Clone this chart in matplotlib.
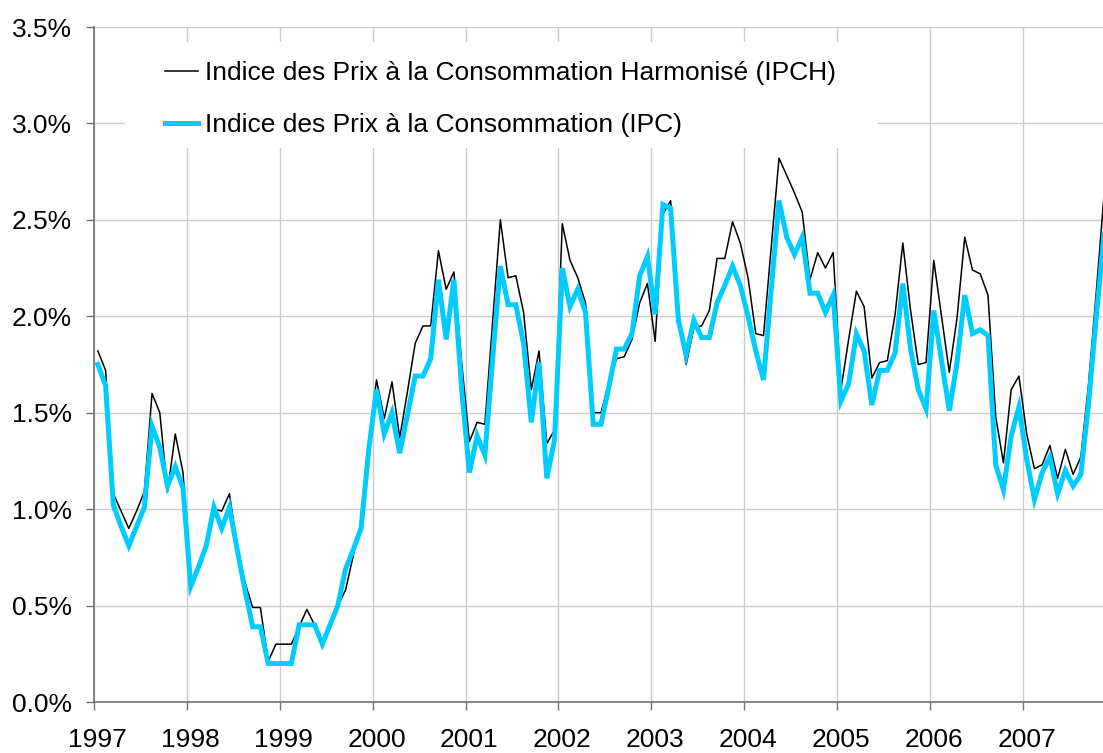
import matplotlib
matplotlib.use('Agg')
import matplotlib.pyplot as plt
import numpy as np
from matplotlib.ticker import FixedLocator, FuncFormatter, NullFormatter
from matplotlib.patches import Rectangle

plt.rcParams['font.family'] = ['Liberation Sans', 'DejaVu Sans']

years = [str(y) for y in range(1997, 2008)]

# Monthly year-on-year inflation, Jan 1997 - Nov 2007 (%)
ipch = [
    1.82, 1.72, 1.08, 0.99, 0.90, 0.99, 1.09, 1.60, 1.50, 1.09, 1.39, 1.19,  # 1997
    0.60, 0.70, 0.81, 1.00, 0.99, 1.08, 0.80, 0.62, 0.49, 0.49, 0.21, 0.30,  # 1998
    0.30, 0.30, 0.39, 0.48, 0.40, 0.30, 0.40, 0.50, 0.58, 0.76, 0.92, 1.35,  # 1999
    1.67, 1.47, 1.66, 1.37, 1.61, 1.86, 1.95, 1.95, 2.34, 2.14, 2.23, 1.76,  # 2000
    1.35, 1.45, 1.44, 1.97, 2.50, 2.20, 2.21, 2.02, 1.62, 1.82, 1.34, 1.41,  # 2001
    2.48, 2.29, 2.20, 2.07, 1.50, 1.50, 1.65, 1.78, 1.79, 1.88, 2.07, 2.17,  # 2002
    1.87, 2.53, 2.60, 2.00, 1.75, 1.94, 1.95, 2.03, 2.30, 2.30, 2.49, 2.38,  # 2003
    2.20, 1.91, 1.90, 2.36, 2.82, 2.73, 2.64, 2.54, 2.19, 2.33, 2.25, 2.33,  # 2004
    1.62, 1.88, 2.13, 2.05, 1.68, 1.76, 1.77, 2.01, 2.38, 2.03, 1.75, 1.76,  # 2005
    2.29, 2.00, 1.71, 1.99, 2.41, 2.24, 2.22, 2.11, 1.48, 1.24, 1.62, 1.69,  # 2006
    1.39, 1.21, 1.23, 1.33, 1.16, 1.31, 1.18, 1.27, 1.65, 2.13, 2.63,        # 2007
]
ipc = [
    1.75, 1.64, 1.02, 0.91, 0.81, 0.91, 1.01, 1.43, 1.32, 1.12, 1.22, 1.11,  # 1997
    0.60, 0.70, 0.81, 1.01, 0.90, 1.01, 0.79, 0.58, 0.39, 0.39, 0.20, 0.20,  # 1998
    0.20, 0.20, 0.40, 0.40, 0.40, 0.30, 0.40, 0.50, 0.69, 0.79, 0.90, 1.31,  # 1999
    1.62, 1.39, 1.50, 1.29, 1.49, 1.69, 1.69, 1.78, 2.19, 1.88, 2.19, 1.62,  # 2000
    1.19, 1.38, 1.28, 1.78, 2.26, 2.06, 2.06, 1.86, 1.45, 1.76, 1.16, 1.36,  # 2001
    2.25, 2.05, 2.14, 2.02, 1.44, 1.44, 1.63, 1.83, 1.83, 1.91, 2.21, 2.31,  # 2002
    2.01, 2.58, 2.56, 1.98, 1.80, 1.98, 1.89, 1.89, 2.07, 2.16, 2.26, 2.16,  # 2003
    2.00, 1.82, 1.67, 2.14, 2.60, 2.41, 2.32, 2.41, 2.12, 2.12, 2.02, 2.11,  # 2004
    1.56, 1.65, 1.91, 1.82, 1.54, 1.72, 1.72, 1.81, 2.17, 1.83, 1.62, 1.52,  # 2005
    2.03, 1.77, 1.51, 1.76, 2.11, 1.91, 1.93, 1.90, 1.23, 1.10, 1.38, 1.53,  # 2006
    1.26, 1.05, 1.19, 1.27, 1.08, 1.20, 1.12, 1.18, 1.55, 2.00, 2.43,        # 2007
]
label_ipch = "Indice des Prix à la Consommation Harmonisé (IPCH)"
label_ipc = "Indice des Prix à la Consommation (IPC)"

W, H = 1103, 753
fig = plt.figure(figsize=(W / 100, H / 100), dpi=100)
ax = fig.add_axes([94 / W, 51 / H, 1009 / W, 675 / H])

x = np.arange(len(ipch)) + 0.5
ax.plot(x, ipch, color='black', lw=1.1, zorder=3, label=label_ipch)
ax.plot(x, ipc, color='#00CCFF', lw=3.6, zorder=4, solid_joinstyle='miter', label=label_ipc)

ax.set_xlim(0, 1009 / 7.74)
ax.set_ylim(0, 3.5)

ax.set_axisbelow(True)
ax.xaxis.set_major_locator(FixedLocator([12 * k for k in range(11)]))
ax.xaxis.set_major_formatter(NullFormatter())
ax.xaxis.set_minor_locator(FixedLocator([12 * k + 0.5 for k in range(11)]))
ax.xaxis.set_minor_formatter(FuncFormatter(lambda v, p: years[int(v // 12)] if int(v // 12) < len(years) else ''))
ax.yaxis.set_major_locator(FixedLocator(np.arange(0, 3.51, 0.5)))
ax.yaxis.set_major_formatter(FuncFormatter(lambda v, p: f"{v:.1f}%"))

ax.grid(True, which='major', color='#CBCBCB', lw=1.0)
for s in ['top', 'right']:
    ax.spines[s].set_visible(False)
for s in ['left', 'bottom']:
    ax.spines[s].set_color('#707070')
    ax.spines[s].set_linewidth(1.2)

ax.tick_params(axis='both', which='major', direction='out', length=5.8, width=1.0,
               color='#707070', labelsize=19)
ax.tick_params(axis='y', pad=10)
ax.tick_params(axis='x', which='minor', length=0, labelsize=19, pad=19.0)

# legend background (hides grid)
ax.add_patch(Rectangle(((125 - 94) / 1009, (702 - 148) / 675), (878 - 125) / 1009, (148 - 42) / 675,
                       transform=ax.transAxes, facecolor='white', edgecolor='none', zorder=1))
leg = ax.legend(loc='upper left', bbox_to_anchor=(165 / W, 1 - 61 / H), bbox_transform=fig.transFigure,
                frameon=False, fontsize=19, handlelength=1.25, handletextpad=0.25,
                labelspacing=1.07, borderpad=0, borderaxespad=0)
leg.set_zorder(5)

fig.savefig('out.png', dpi=100)
